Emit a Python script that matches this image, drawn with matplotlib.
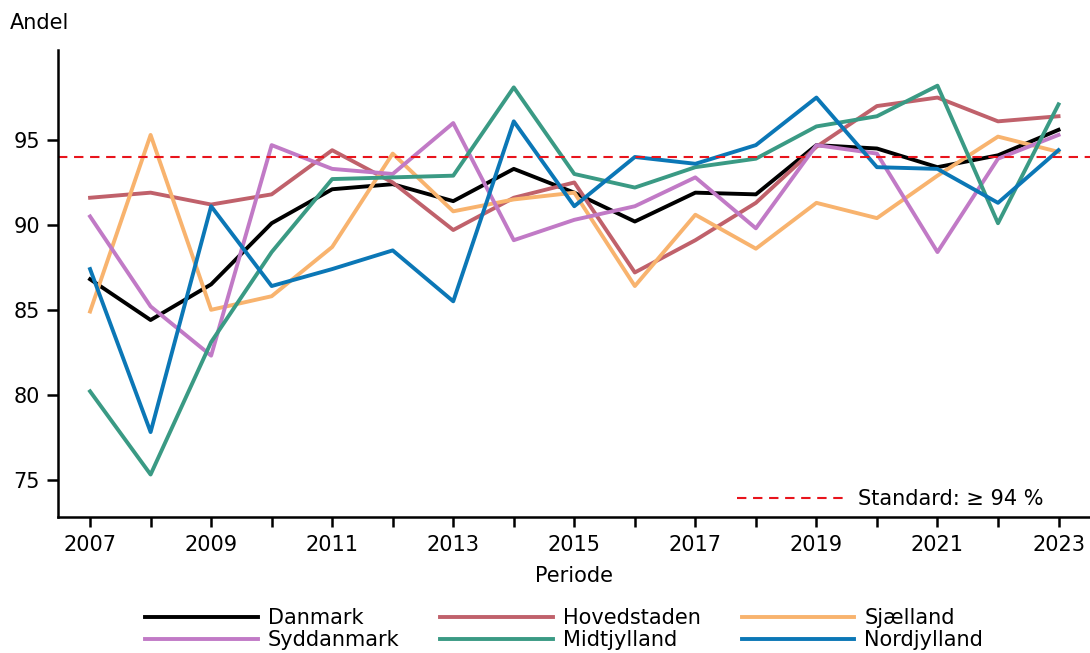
import numpy as np
import matplotlib.pyplot as plt

years = list(range(2007, 2024))

danmark = [86.8, 84.4, 86.5, 90.1, 92.1, 92.4, 91.4, 93.3, 91.9, 90.2, 91.9, 91.8, 94.7, 94.5, 93.4, 94.1, 95.6]
hovedstaden = [91.6, 91.9, 91.2, 91.8, 94.4, 92.5, 89.7, 91.6, 92.5, 87.2, 89.1, 91.3, 94.6, 97.0, 97.5, 96.1, 96.4]
sjaelland = [84.9, 95.3, 85.0, 85.8, 88.7, 94.2, 90.8, 91.5, 91.9, 86.4, 90.6, 88.6, 91.3, 90.4, 92.9, 95.2, 94.3]
syddanmark = [90.5, 85.2, 82.3, 94.7, 93.3, 93.0, 96.0, 89.1, 90.3, 91.1, 92.8, 89.8, 94.7, 94.2, 88.4, 93.9, 95.3]
midtjylland = [80.2, 75.3, 83.1, 88.4, 92.7, 92.8, 92.9, 98.1, 93.0, 92.2, 93.4, 93.9, 95.8, 96.4, 98.2, 90.1, 97.1]
nordjylland = [87.4, 77.8, 91.1, 86.4, 87.4, 88.5, 85.5, 96.1, 91.1, 94.0, 93.6, 94.7, 97.5, 93.4, 93.3, 91.3, 94.4]

labels = ["Danmark", "Hovedstaden", "Sjælland", "Syddanmark", "Midtjylland", "Nordjylland"]
colors = ["#000000", "#C0616B", "#F8B36E", "#C17AC6", "#3A9A84", "#0B77B6"]
standard = 94

plt.rcParams['font.family'] = ['DejaVu Sans']
fs = 15

fig = plt.figure(figsize=(10.9, 6.53), dpi=100)
ax = fig.add_axes([0.0532, 0.2083, 0.9468, 0.7151])

series = [danmark, hovedstaden, sjaelland, syddanmark, midtjylland, nordjylland]
handles = []
for vals, lab, col in zip(series, labels, colors):
    h, = ax.plot(years, vals, color=col, linewidth=2.8, label=lab)
    handles.append(h)

std_line = ax.axhline(standard, color="#E8141C", linestyle=(0, (4.5, 3.2)), linewidth=1.5)

ax.set_xlim(2006.47, 2023.52)
ax.set_ylim(72.8, 100.3)
ax.set_xticks(years)
ax.set_xticklabels([str(y) if y % 2 == 1 else "" for y in years])
ax.set_yticks([75, 80, 85, 90, 95])

for s in ["top", "right"]:
    ax.spines[s].set_visible(False)
for s in ["left", "bottom"]:
    ax.spines[s].set_linewidth(1.8)
ax.tick_params(axis="x", length=7, width=1.8, labelsize=fs, pad=6)
ax.tick_params(axis="y", length=8, width=1.8, labelsize=fs, pad=5)

ax.set_xlabel("Periode", fontsize=fs, labelpad=8)
fig.text(0.009, 0.965, "Andel", fontsize=fs, ha="left", va="center")

ax.legend([std_line], ["Standard: ≥ 94 %"], loc="center left", frameon=False,
          fontsize=fs, handlelength=5.1, handletextpad=0.7, borderpad=0, borderaxespad=0,
          bbox_to_anchor=(737 / 1090, 1 - 499 / 653), bbox_transform=fig.transFigure)

# legend fills row-wise in the reference
order = [0, 3, 1, 4, 2, 5]
fig.legend([handles[i] for i in order], [labels[i] for i in order], loc="center left", ncol=3,
           frameon=False, fontsize=fs, handlelength=5.4, columnspacing=1.95, labelspacing=0.1,
           handletextpad=0.5, borderpad=0, borderaxespad=0,
           bbox_to_anchor=(145 / 1090, 1 - 629 / 653))

fig.savefig("out.png", dpi=100)
